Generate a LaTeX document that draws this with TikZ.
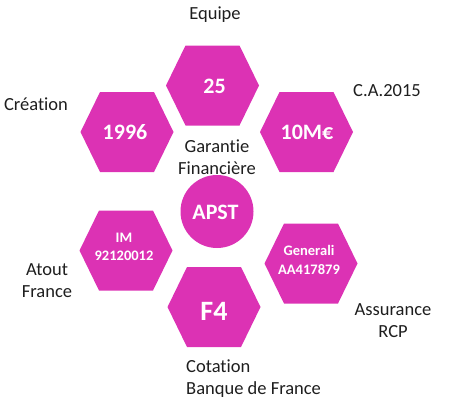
\documentclass[tikz,border=0pt]{standalone}
\usepackage{fontspec}
\setmainfont{Carlito}[RawFeature={-liga;-dlig;-calt}]
\definecolor{hexpink}{HTML}{DC32B4}
\definecolor{labelgray}{HTML}{1E1E1E}
\tikzset{
  hexfill/.style={fill=hexpink, draw=none},
  hextext/.style={text=white, font=\bfseries\fontsize{22bp}{26bp}\selectfont, align=center, inner sep=0pt},
  smalltext/.style={text=white, font=\bfseries\fontsize{14.5bp}{18.5bp}\selectfont, align=center, inner sep=0pt},
  lbl/.style={text=labelgray, font=\fontsize{18.5bp}{22bp}\selectfont, align=center, inner sep=0pt}
}
\newcommand{\hexshape}[2]{%
  \fill[hexpink] (#1-46.5,#2) -- (#1-27,#2-40) -- (#1+27,#2-40) -- (#1+46.5,#2) -- (#1+27,#2+40) -- (#1-27,#2+40) -- cycle;}
\begin{document}
\begin{tikzpicture}[x=1bp,y=-1bp]
\useasboundingbox (0,0) rectangle (450,412);
% hexagons
\hexshape{212.5}{85.5}
\hexshape{127}{132}
\hexshape{306.5}{132}
\hexshape{126}{250.5}
\hexshape{311}{263.5}
\hexshape{214}{307}
\fill[hexpink] (217,211.5) circle (36.5);
% texts inside
\node[hextext] (h25) at (214.5,86.5) {25};
\node[hextext] (h1996) at (125,132.5) {1996};
\node[hextext] (h10m) at (307,132.5) {10M€};
\node[hextext] (apst) at (215.5,212) {APST};
\node[hextext, font=\bfseries\fontsize{28bp}{32bp}\selectfont] (hf4) at (214,311) {F4};
\node[smalltext] (him) at (124,247) {IM\\92120012};
\node[smalltext] (hgen) at (309,260) {Generali\\AA417879};
% labels
\node[lbl] (equipe) at (215,15) {Equipe};
\node[lbl] (creation) at (36,104) {Création};
\node[lbl] (ca) at (387,91) {C.A.2015};
\node[lbl] (garantie) at (217,157) {Garant\kern0pt ie\\Financière};
\node[lbl] (atout) at (47,281) {Atout\\France};
\node[lbl] (assur) at (393,321) {Assurance\\RCP};
\node[lbl, align=left, anchor=west] (cot) at (186,379) {Cotat\kern0pt ion\\Banque de France};
\end{tikzpicture}
\end{document}
